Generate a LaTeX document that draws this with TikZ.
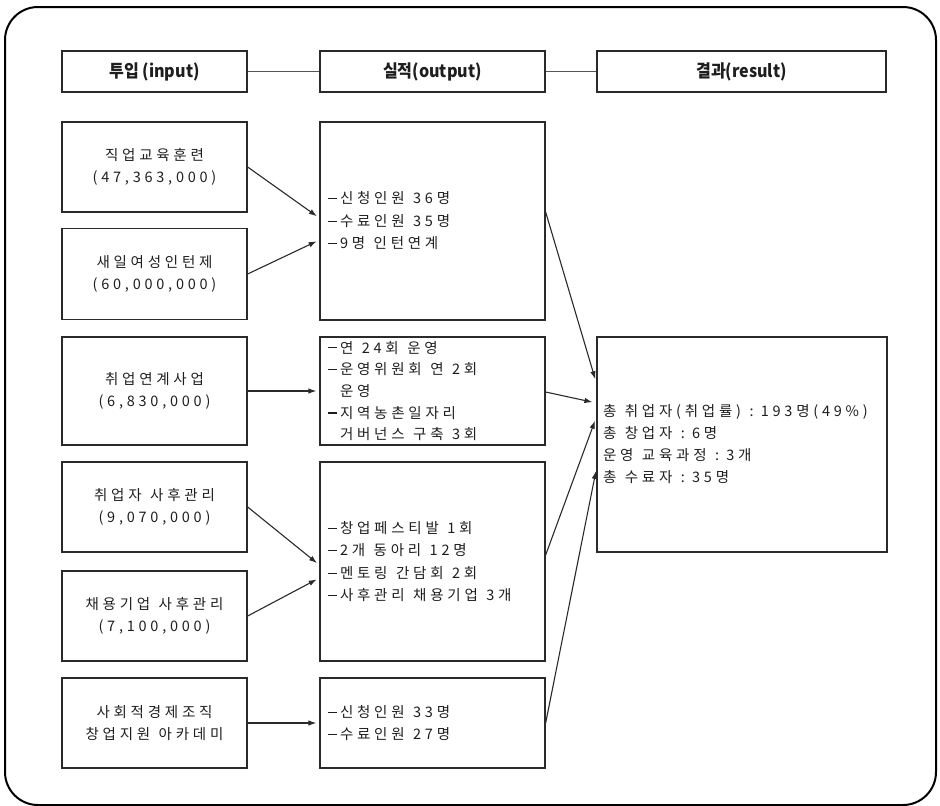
\documentclass[tikz,border=0pt]{standalone}
\usepackage{fontspec}
\usetikzlibrary{arrows.meta}
\newfontfamily\krfont{Noto Sans CJK KR}[LetterSpace=26]
\newfontfamily\krhead{Noto Sans CJK KR}[FakeStretch=0.92]
\definecolor{ink}{HTML}{1E1E1E}
\definecolor{edge}{HTML}{2A2A2A}
\newcommand{\dsh}{\rule[4.6pt]{9pt}{1.1pt}\hspace{3pt}}
\newcommand{\ind}{\hspace{12pt}}
\newcommand{\widesp}{\spaceskip=8.5pt plus 1pt minus 1pt\relax}
\newcommand{\bodyfont}[1]{\krfont\fontsize{14.5}{#1}\selectfont\widesp}
\begin{document}
\begin{tikzpicture}[x=1pt,y=-1pt,
  box/.style={draw=edge,line width=1.3pt,inner sep=0pt,text=ink,
    font=\bodyfont{22.5},execute at begin node=\widesp},
  headbox/.style={draw=edge,line width=1.3pt,inner sep=0pt,text=ink,minimum height=41pt,
    font=\krhead\bfseries\fontsize{17.5}{20}\selectfont},
  leftbox/.style={box,minimum width=185pt,minimum height=90pt,align=center},
  midbox/.style={box,text width=209pt,minimum width=225pt,inner xsep=8pt,align=left},
  arr/.style={draw=edge,line width=1.1pt,-{Latex[length=8pt,width=5.5pt]},shorten >=3pt},
  link/.style={draw=edge!80,line width=1.1pt}]
\useasboundingbox (0,0) rectangle (940,806);
\draw[line width=2pt,rounded corners=33pt] (5,7) rectangle (936,805);

% headers
\node[headbox,minimum width=185pt] (H1) at (154.5,71.5) {투입 (input)};
\node[headbox,minimum width=225pt] (H2) at (432.5,71.5) {실적(output)};
\node[headbox,minimum width=289pt] (H3) at (741.5,71.5) {결과(result)};
\draw[link] (H1.east) -- (H2.west);
\draw[link] (H2.east) -- (H3.west);

% inputs
\node[leftbox] (B1) at (154.5,167) {직업교육훈련\\(47,363,000)};
\node[leftbox,minimum height=91pt] (B2) at (154.5,274) {새일여성인턴제\\(60,000,000)};
\node[leftbox,minimum height=108pt] (B3) at (154.5,391) {취업연계사업\\(6,830,000)};
\node[leftbox] (B4) at (154.5,507) {취업자 사후관리\\(9,070,000)};
\node[leftbox] (B5) at (154.5,616) {채용기업 사후관리\\(7,100,000)};
\node[leftbox] (B6) at (154.5,723) {사회적경제조직\\창업지원 아카데미};

% outputs
\node[midbox,minimum height=198pt] (M1) at (432.5,221)
  {\dsh 신청인원 36명\\\dsh 수료인원 35명\\\dsh 9명 인턴연계};
\node[midbox,minimum height=108pt,font=\bodyfont{21.7}] (M2) at (432.5,391)
  {\dsh 연 24회 운영\\\dsh 운영위원회 연 2회\\\ind 운영\\\dsh 지역농촌일자리\\\ind 거버넌스 구축 3회};
\node[midbox,minimum height=199pt] (M3) at (432.5,561.5)
  {\dsh 창업페스티발 1회\\\dsh 2개 동아리 12명\\\dsh 멘토링 간담회 2회\\\dsh 사후관리 채용기업 3개};
\node[midbox,minimum height=90pt] (M4) at (432.5,723)
  {\dsh 신청인원 33명\\\dsh 수료인원 27명};

% result
\node[box,minimum width=290pt,minimum height=215pt,text width=278pt,inner xsep=6pt,align=left,
  font=\bodyfont{22}] (R) at (742,444.5)
  {총 취업자(취업률) : 193명(49\%)\\총 창업자 : 6명\\운영 교육과정 : 3개\\총 수료자 : 35명};

% input -> output
\draw[arr] (B1.east) -- ([yshift=3pt]M1.west);
\draw[arr] (B2.east) -- ([yshift=-19pt]M1.west);
\draw[arr] (B3.east) -- (M2.west);
\draw[arr] (B4.east) -- ([yshift=-3.5pt]M3.west);
\draw[arr] (B5.east) -- ([yshift=-16.5pt]M3.west);
\draw[arr] (B6.east) -- (M4.west);

% output -> result
\draw[arr,shorten >=4pt] ([yshift=9pt]M1.east) -- ([yshift=61.5pt]R.west);
\draw[arr,shorten >=4pt] ([yshift=-1pt]M2.east) -- ([yshift=41.5pt]R.west);
\draw[arr,shorten >=4pt] ([yshift=6.5pt]M3.east) -- ([yshift=27.5pt]R.west);
\draw[arr,shorten >=2pt] (M4.east) -- ([yshift=-24.5pt]R.west);
\end{tikzpicture}
\end{document}
